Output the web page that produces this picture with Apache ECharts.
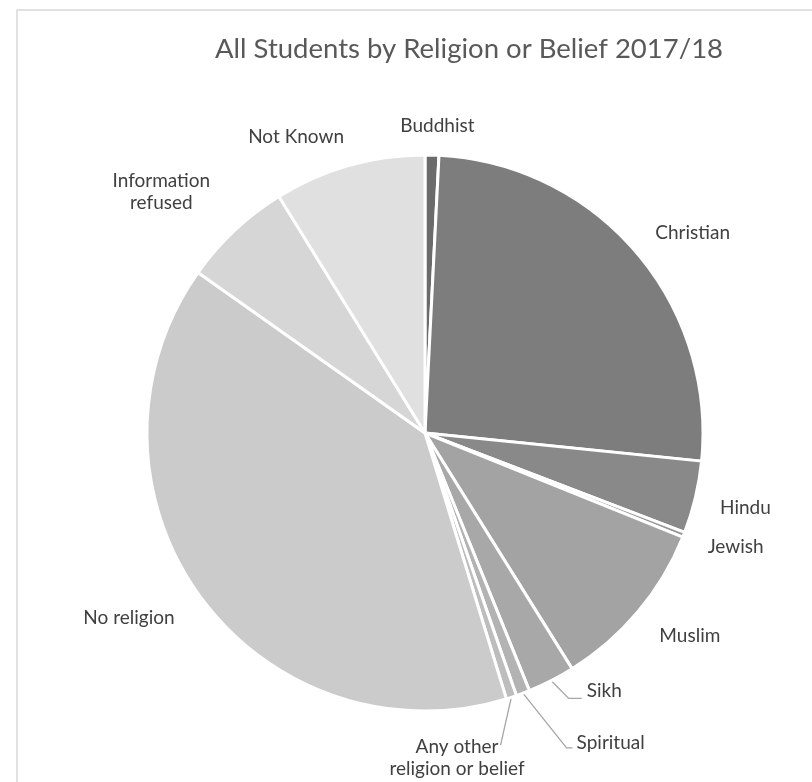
<!DOCTYPE html>
<html>
<head>
<meta charset="utf-8">
<script src="https://cdn.jsdelivr.net/npm/echarts@6/dist/echarts.min.js"></script>
<style>
html,body{margin:0;padding:0;background:#fff;}
#chart{width:812px;height:782px;}
</style>
</head>
<body>
<div id="chart"></div>
<script>
const categories = ['Buddhist','Christian','Hindu','Jewish','Muslim','Sikh','Spiritual','Any other\nreligion or belief','No religion','Information\nrefused','Not Known'];
const values = [0.8, 25.8, 4.2, 0.3, 10.0, 2.75, 0.8, 0.6, 39.5, 6.4, 8.8];

// styling only
const colors = ['#6b6b6b','#7d7d7d','#898989','#969696','#a3a3a3','#a8a8a8','#b3b3b3','#bdbdbd','#cbcbcb','#d6d6d6','#e0e0e0'];
const showLeader = [false,false,false,false,false,true,true,true,false,false,false];
const leaderLen = [15,15,15,15,15,12,53,15,15,15,15];
const leaderLen2 = [5,5,5,5,5,25,30,3,5,5,5];
const labelNudge = [[-42,-14],[-2,-9],[0,7],[0,7],[0,14],[0,0],[0,0],[-67,46],[-3,13],[-53,-28],[9,-14]];
const labelAlign = [null,null,null,null,null,null,null,'center',null,'center',null];

const chart = echarts.init(document.getElementById('chart'), null, {renderer:'canvas'});
const data = categories.map((c,i)=>({
  name:c, value:values[i],
  itemStyle:{color:colors[i]},
  labelLine:{show:showLeader[i], length:leaderLen[i], length2:leaderLen2[i]}
}));
chart.setOption({
  animation:false,
  backgroundColor:'#fff',
  title:{
    text:'All Students by Religion or Belief 2017/18',
    left:210, top:30,
    textStyle:{fontFamily:'Lato', fontSize:27.5, fontWeight:'normal', color:'#595959'}
  },
  graphic:[{type:'rect', shape:{x:17,y:10,width:900,height:900}, style:{fill:'none', stroke:'#d9d9d9', lineWidth:1.5}, silent:true}],
  series:[{
    type:'pie',
    center:[425,433],
    radius:278,
    startAngle:90,
    clockwise:true,
    avoidLabelOverlap:false,
    itemStyle:{borderColor:'#fff', borderWidth:3},
    label:{show:true, position:'outside', formatter:'{b}', fontFamily:'Lato', fontSize:19, color:'#404040', lineHeight:22, alignTo:'none', distanceToLabelLine:5},
    labelLine:{lineStyle:{color:'#a6a6a6', width:1.3}},
    labelLayout:function(p){
      const i = p.dataIndex, n = labelNudge[i];
      const o = {dx:n[0], dy:n[1]};
      if (labelAlign[i]) o.align = labelAlign[i];
      if (!p.labelLinePoints) return o;
      const r = p.labelRect;
      const rim = p.labelLinePoints[0];
      const midY = r.y + r.height/2;
      if (i === 5) {
        o.labelLinePoints = [rim, [r.x - 18, midY + 7], [r.x - 5, midY + 7]];
      } else if (i === 6) {
        o.labelLinePoints = [rim, [r.x - 10, midY + 5], [r.x - 4, midY + 5]];
      } else if (i === 7) {
        const cx = r.x + n[0];
        const top = r.y + n[1];
        const end = [cx + r.width*0.3 + 3, top + r.height*0.22];
        o.labelLinePoints = [rim, [(rim[0]+end[0])/2, (rim[1]+end[1])/2], end];
      }
      return o;
    },
    data:data
  }]
});
</script>
</body>
</html>
